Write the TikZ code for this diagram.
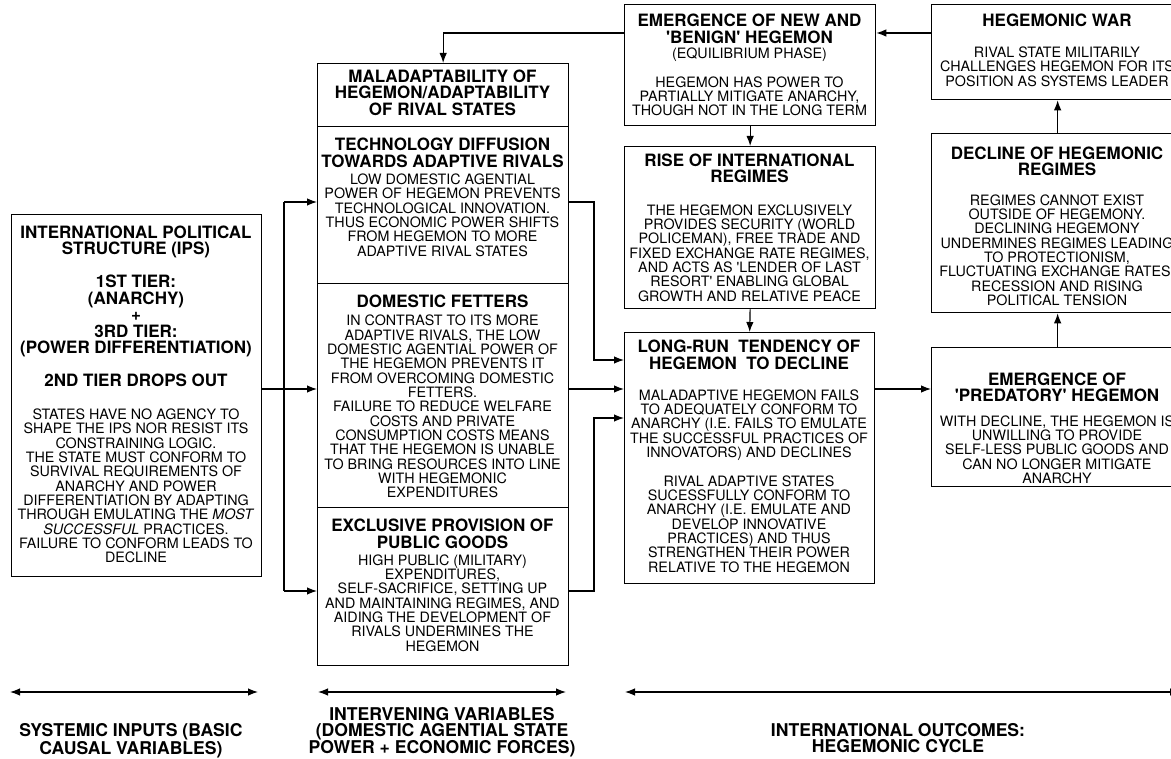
\documentclass[tikz,border=0pt]{standalone}
\usepackage{fontspec}
\setmainfont{TeX Gyre Heros}[Ligatures=TeXOff]
\usetikzlibrary{arrows.meta}
\newcommand\hstr{\rule{0pt}{13pt}}
\newcommand\bstr{\rule{0pt}{11pt}}
\begin{document}
\begin{tikzpicture}[x=1pt,y=-1pt,
 box/.style={draw, line width=1.3pt, inner sep=0pt, anchor=north west},
 hd/.style={anchor=north, inner sep=0pt, align=center, font=\bfseries\fontsize{17}{16.5}\selectfont},
 lb/.style={anchor=north, inner sep=0pt, align=center, font=\bfseries\fontsize{17.6}{16}\selectfont},
 bd/.style={anchor=north, inner sep=0pt, align=center, font=\fontsize{14.3}{14.33}\selectfont},
 ln/.style={line width=1.2pt},
 arr/.style={line width=1.2pt, -{Latex[length=10pt,width=7.5pt]}},
 dbl/.style={line width=1.2pt, {Latex[length=10pt,width=7.5pt]}-{Latex[length=10pt,width=7.5pt]}}]
\useasboundingbox (0,0) rectangle (1171,759);
\clip (0,0) rectangle (1171,759);
% boxes
\node[box, minimum width=250pt, minimum height=362pt] (ips) at (11,214) {};
\node[box, minimum width=251pt, minimum height=63pt] (mal) at (317,63) {};
\node[box, minimum width=251pt, minimum height=157pt] (tech) at (317,126) {};
\node[box, minimum width=251pt, minimum height=224pt] (dom) at (317,283) {};
\node[box, minimum width=251pt, minimum height=158pt] (pub) at (317,507) {};
\node[box, minimum width=251pt, minimum height=121pt] (benign) at (624,4) {};
\node[box, minimum width=251pt, minimum height=162pt] (rise) at (624,146) {};
\node[box, minimum width=250pt, minimum height=251pt] (lr) at (624,332) {};
\node[box, minimum width=252pt, minimum height=95pt] (war) at (931,4) {};
\node[box, minimum width=252pt, minimum height=179pt] (decl) at (931,133) {};
\node[box, minimum width=252pt, minimum height=139pt] (pred) at (931,347) {};
% texts
\node[hd] (ipsH) at (136,225) {\hstr INTERNATIONAL POLITICAL\\STRUCTURE (IPS)\\~\\1ST TIER:\\(ANARCHY)\\+\\3RD TIER:\\(POWER DIFFERENTIATION)\\~\\2ND TIER DROPS OUT};
\node[bd] (ipsB) at (136,408.3) {\bstr STATES HAVE NO AGENCY TO\\SHAPE THE IPS NOR RESIST ITS\\CONSTRAINING LOGIC.\\THE STATE MUST CONFORM TO\\SURVIVAL REQUIREMENTS OF\\ANARCHY AND POWER\\DIFFERENTIATION BY ADAPTING\\THROUGH EMULATING THE \textit{MOST}\\\textit{SUCCESSFUL} PRACTICES.\\FAILURE TO CONFORM LEADS TO\\DECLINE};
\node[hd] (malH) at (442.5,69.3) {\hstr MALADAPTABILITY OF\\HEGEMON/ADAPTABILITY\\OF RIVAL STATES};
\node[hd] (techH) at (442.5,137.7) {\hstr TECHNOLOGY DIFFUSION\\TOWARDS ADAPTIVE RIVALS};
\node[bd] (techB) at (442.5,173.3) {\bstr LOW DOMESTIC AGENTIAL\\POWER OF HEGEMON PREVENTS\\TECHNOLOGICAL INNOVATION.\\THUS ECONOMIC POWER SHIFTS\\FROM HEGEMON TO MORE\\ADAPTIVE RIVAL STATES};
\node[hd] (domH) at (442.5,294.3) {\hstr DOMESTIC FETTERS};
\node[bd] (domB) at (442.5,314.7) {\bstr IN CONTRAST TO ITS MORE\\ADAPTIVE RIVALS, THE LOW\\DOMESTIC AGENTIAL POWER OF\\THE HEGEMON PREVENTS IT\\FROM OVERCOMING DOMESTIC\\FETTERS.\\FAILURE TO REDUCE WELFARE\\COSTS AND PRIVATE\\CONSUMPTION COSTS MEANS\\THAT THE HEGEMON IS UNABLE\\TO BRING RESOURCES INTO LINE\\WITH HEGEMONIC\\EXPENDITURES};
\node[hd] (pubH) at (442.5,518.7) {\hstr EXCLUSIVE PROVISION OF\\PUBLIC GOODS};
\node[bd] (pubB) at (442.5,554) {\bstr HIGH PUBLIC (MILITARY)\\EXPENDITURES,\\SELF-SACRIFICE, SETTING UP\\AND MAINTAINING REGIMES, AND\\AIDING THE DEVELOPMENT OF\\RIVALS UNDERMINES THE\\HEGEMON};
\node[hd] (benH) at (749.5,13.7) {\hstr EMERGENCE OF NEW AND\\'BENIGN' HEGEMON};
\node[bd] (benB) at (749.5,47.3) {\bstr (EQUILIBRIUM PHASE)\\~\\HEGEMON HAS POWER TO\\PARTIALLY MITIGATE ANARCHY,\\THOUGH NOT IN THE LONG TERM};
\node[hd] (riseH) at (749.5,153) {\hstr RISE OF INTERNATIONAL\\REGIMES};
\node[bd] (riseB) at (749.5,204) {\bstr THE HEGEMON EXCLUSIVELY\\PROVIDES SECURITY (WORLD\\POLICEMAN), FREE TRADE AND\\FIXED EXCHANGE RATE REGIMES,\\AND ACTS AS 'LENDER OF LAST\\RESORT' ENABLING GLOBAL\\GROWTH AND RELATIVE PEACE};
\node[hd] (lrH) at (749,339.7) {\hstr LONG-RUN\hspace{0.55em}TENDENCY OF\\HEGEMON\hspace{0.55em}TO DECLINE};
\node[bd] (lrB) at (749,389) {\bstr MALADAPTIVE HEGEMON FAILS\\TO ADEQUATELY CONFORM TO\\ANARCHY (I.E. FAILS TO EMULATE\\THE SUCCESSFUL PRACTICES OF\\INNOVATORS) AND DECLINES\\~\\RIVAL ADAPTIVE STATES\\SUCESSFULLY CONFORM TO\\ANARCHY (I.E. EMULATE AND\\DEVELOP INNOVATIVE\\PRACTICES) AND THUS\\STRENGTHEN THEIR POWER\\RELATIVE TO THE HEGEMON};
\node[hd] (warH) at (1057,13.7) {\hstr HEGEMONIC WAR};
\node[bd] (warB) at (1057,46.3) {\bstr RIVAL STATE MILITARILY\\CHALLENGES HEGEMON FOR ITS\\POSITION AS SYSTEMS LEADER};
\node[hd] (declH) at (1057,146) {\hstr DECLINE OF HEGEMONIC\\REGIMES};
\node[bd] (declB) at (1057,194) {\bstr REGIMES CANNOT EXIST\\OUTSIDE OF HEGEMONY.\\DECLINING HEGEMONY\\UNDERMINES REGIMES LEADING\\TO PROTECTIONISM,\\FLUCTUATING EXCHANGE RATES,\\RECESSION AND RISING\\POLITICAL TENSION};
\node[hd] (predH) at (1057,372) {\hstr EMERGENCE OF\\'PREDATORY' HEGEMON};
\node[bd] (predB) at (1057,415) {\bstr WITH DECLINE, THE HEGEMON IS\\UNWILLING TO PROVIDE\\SELF-LESS PUBLIC GOODS AND\\CAN NO LONGER MITIGATE\\ANARCHY};
% bottom labels
\node[lb] (sysL) at (131,723.7) {\hstr SYSTEMIC INPUTS (BASIC\\CAUSAL VARIABLES)};
\node[lb] (intL) at (442,707) {\hstr INTERVENING VARIABLES\\(DOMESTIC AGENTIAL STATE\\POWER + ECONOMIC FORCES)};
\node[lb] (outL) at (898,723.7) {\hstr INTERNATIONAL OUTCOMES:\\HEGEMONIC CYCLE};
% connectors
\coordinate (busT) at (284,202);
\coordinate (busM) at (284,389);
\coordinate (busB) at (284,591);
\coordinate (j1) at (594,360);
\coordinate (j2) at (594,418);
\coordinate (topy) at (0,33);
\draw[ln] (busT) -- (busB);
\draw[arr] (busT) -- (tech.west |- busT);
\draw[arr] (ips.east |- busM) -- (dom.west |- busM);
\draw[arr] (busB) -- (pub.west |- busB);
\draw[arr] (tech.east |- busT) -| (j1) -- (lr.west |- j1);
\draw[arr] (dom.east |- busM) -- (lr.west |- busM);
\draw[arr] (pub.east |- busB) -| (j2) -- (lr.west |- j2);
\draw[arr] (benign.west |- topy) -| (mal.north);
\draw[arr] (war.west |- topy) -- (benign.east |- topy);
\draw[arr] (benign.south) -- (rise.north);
\draw[arr] (rise.south) -- (lr.north);
\draw[arr] (lr.east |- busM) -- (pred.west |- busM);
\draw[arr] (pred.north) -- (decl.south);
\draw[arr] (decl.north) -- (war.south);
% scale arrows
\coordinate (a1) at (10,692); \coordinate (a2) at (258,692);
\coordinate (b1) at (318,692); \coordinate (b2) at (566,692);
\coordinate (c1) at (625,692); \coordinate (c2) at (1180,692);
\draw[dbl] (a1) -- (a2);
\draw[dbl] (b1) -- (b2);
\draw[dbl] (c1) -- (c2);
\end{tikzpicture}
\end{document}
